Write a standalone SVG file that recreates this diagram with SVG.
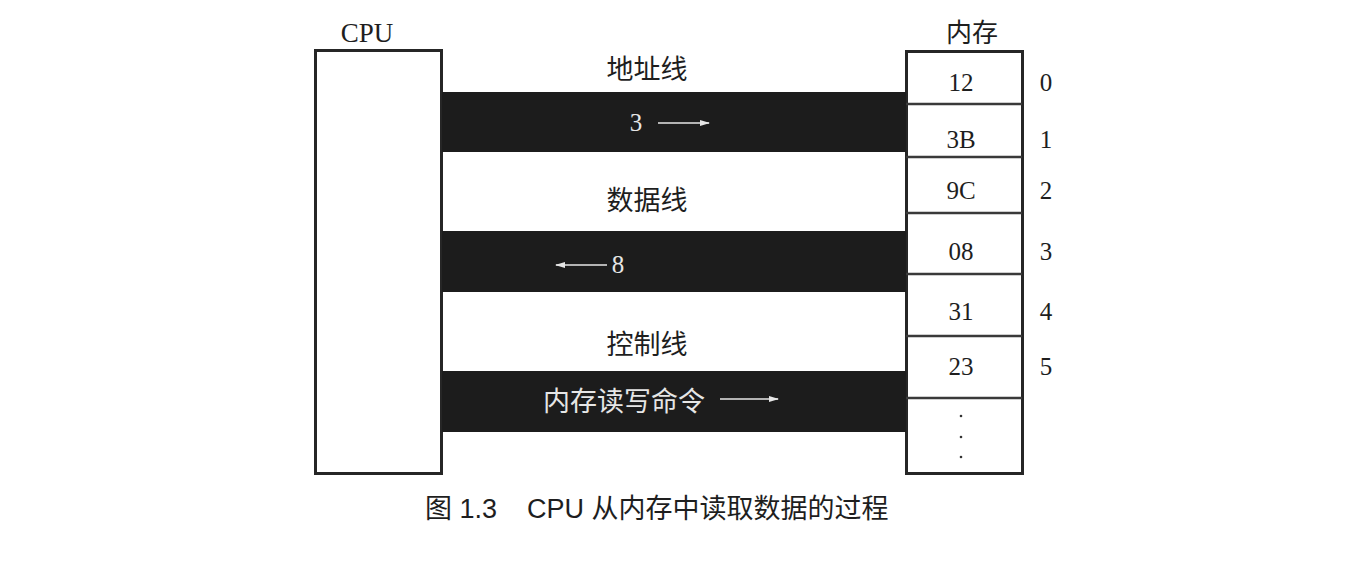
<svg xmlns="http://www.w3.org/2000/svg" width="1370" height="572" viewBox="0 0 1370 572">
  <defs>
    <marker id="head" viewBox="0 0 10 10" refX="9" refY="5" markerWidth="10" markerHeight="10" markerUnits="userSpaceOnUse" orient="auto">
      <path d="M0,2 L10,5 L0,8 z" fill="#e6e6e6"/>
    </marker>
  </defs>
  <style>
    .box { fill: #ffffff; stroke: #262626; stroke-width: 3; }
    .sep { stroke: #3a3a3a; stroke-width: 2.5; }
    .bus { fill: #1c1c1c; }
    .serif { font-family: "Liberation Serif", "Noto Sans CJK SC", serif; fill: #1e1e1e; }
    .cjk { font-family: "Noto Sans CJK SC", "Liberation Serif", serif; fill: #1e1e1e; }
    .onbus { fill: #e6e6e6; }
    .arrow { stroke: #e6e6e6; stroke-width: 1.5; fill: none; marker-end: url(#head); }
    .caption { font-family: "Liberation Sans", "Noto Sans CJK SC", sans-serif; fill: #1e1e1e; }
  </style>

  <rect width="1370" height="572" fill="#ffffff"/>

  <!-- CPU block -->
  <g id="cpu">
    <text class="serif" x="367" y="42" font-size="27" text-anchor="middle">CPU</text>
    <rect class="box" x="315.5" y="50.5" width="126" height="423"/>
  </g>

  <!-- memory block with numbered cells -->
  <g id="memory">
    <text class="cjk" x="972" y="42" font-size="26" text-anchor="middle">内存</text>
    <rect class="box" x="906.5" y="51.5" width="116" height="422"/>
    <line class="sep" x1="906" y1="104" x2="1022" y2="104"/>
    <line class="sep" x1="906" y1="157" x2="1022" y2="157"/>
    <line class="sep" x1="906" y1="213" x2="1022" y2="213"/>
    <line class="sep" x1="906" y1="274" x2="1022" y2="274"/>
    <line class="sep" x1="906" y1="336" x2="1022" y2="336"/>
    <line class="sep" x1="906" y1="398" x2="1022" y2="398"/>
    <g class="serif" font-size="25" text-anchor="middle">
      <text x="961" y="91">12</text>
      <text x="961" y="148">3B</text>
      <text x="961" y="199">9C</text>
      <text x="961" y="260">08</text>
      <text x="961" y="320">31</text>
      <text x="961" y="375">23</text>
      <text x="1046" y="91">0</text>
      <text x="1046" y="148">1</text>
      <text x="1046" y="199">2</text>
      <text x="1046" y="260">3</text>
      <text x="1046" y="320">4</text>
      <text x="1046" y="375">5</text>
    </g>
    <circle cx="961" cy="416" r="1.3" fill="#333"/>
    <circle cx="961" cy="437" r="1.3" fill="#333"/>
    <circle cx="961" cy="457" r="1.3" fill="#333"/>
  </g>

  <!-- buses between CPU and memory -->
  <g id="connectors">
    <g id="address-bus">
      <rect class="bus" x="442" y="92" width="464" height="60"/>
      <text class="cjk" x="647" y="79" font-size="27" text-anchor="middle">地址线</text>
      <text class="serif onbus" x="636" y="131" font-size="25" text-anchor="middle">3</text>
      <line class="arrow" x1="658" y1="123" x2="709" y2="123"/>
    </g>
    <g id="data-bus">
      <rect class="bus" x="442" y="231" width="464" height="61"/>
      <text class="cjk" x="647" y="210" font-size="27" text-anchor="middle">数据线</text>
      <line class="arrow" x1="607" y1="265" x2="556" y2="265"/>
      <text class="serif onbus" x="618" y="273" font-size="25" text-anchor="middle">8</text>
    </g>
    <g id="control-bus">
      <rect class="bus" x="442" y="371" width="464" height="61"/>
      <text class="cjk" x="647" y="354" font-size="27" text-anchor="middle">控制线</text>
      <text class="cjk onbus" x="543" y="411" font-size="27">内存读写命令</text>
      <line class="arrow" x1="720" y1="399" x2="778" y2="399"/>
    </g>
  </g>

  <!-- figure caption -->
  <text class="caption" y="518" font-size="27"><tspan x="425">图 1.3</tspan><tspan x="527">CPU 从内存中读取数据的过程</tspan></text>
</svg>
